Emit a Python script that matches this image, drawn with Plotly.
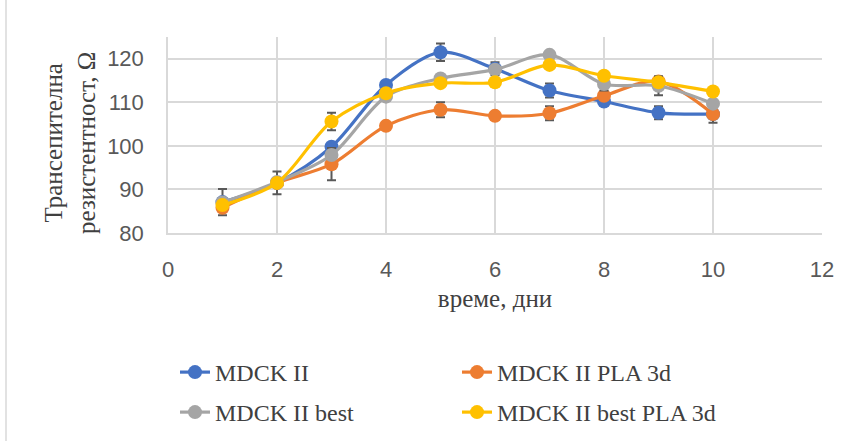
import plotly.graph_objects as go

days = [1, 2, 3, 4, 5, 6, 7, 8, 9, 10]

mdck = [87.1, 91.5, 99.8, 114.0, 121.5, 117.7, 112.7, 110.2, 107.6, 107.3]
mdck_pla = [85.8, 91.5, 95.8, 104.6, 108.3, 106.9, 107.5, 111.5, 114.8, 107.3]
mdck_best = [87.0, 91.7, 97.9, 111.3, 115.5, 117.5, 120.9, 114.2, 113.8, 109.7]
mdck_best_pla = [86.4, 91.5, 105.6, 112.1, 114.4, 114.6, 118.6, 116.1, 114.6, 112.5]

err_mdck = [3.0, 2.6, 0, 0, 2.0, 1.5, 1.6, 0, 1.5, 1.0]
err_mdck_pla = [0, 0, 3.7, 0, 1.7, 0, 1.6, 0, 0, 2.0]
err_mdck_best = [0, 0, 0, 0, 0, 0, 0, 1.5, 2.2, 0]
err_mdck_best_pla = [0, 0, 2.0, 0, 0, 0, 0, 0, 0, 0]

names = ["MDCK II", "MDCK II PLA 3d", "MDCK II best", "MDCK II best PLA 3d"]
colors = ["#4472C4", "#ED7D31", "#A5A5A5", "#FFC000"]
legends = ["legend", "legend", "legend2", "legend2"]

series = [mdck, mdck_pla, mdck_best, mdck_best_pla]
errors = [err_mdck, err_mdck_pla, err_mdck_best, err_mdck_best_pla]

W, H = 857, 441
L, R, T, B = 168, 35, 37, 208
pw, ph = W - L - R, H - T - B

fig = go.Figure()
for vals, errs, name, col, lg in zip(series, errors, names, colors, legends):
    fig.add_trace(go.Scatter(
        x=days, y=vals, name=name, mode="lines+markers",
        line=dict(color=col, width=3.2, shape="spline", smoothing=0.9),
        marker=dict(color=col, size=14, line=dict(width=0)),
        error_y=dict(type="data", array=errs, visible=True,
                     color="#595959", thickness=2, width=4.5),
        legend=lg,
    ))

serif = "Times New Roman, Liberation Serif, serif"
sans = "Liberation Sans, Arial, sans-serif"

legend_common = dict(
    orientation="h", xanchor="left", yanchor="top",
    xref="container", yref="container",
    font=dict(family=serif, size=24, color="#404040"),
    entrywidth=237, entrywidthmode="pixels",
    bgcolor="rgba(0,0,0,0)",
)

fig.update_layout(
    width=W, height=H,
    margin=dict(l=L, r=R, t=T, b=B, autoexpand=False),
    paper_bgcolor="white", plot_bgcolor="white",
    showlegend=True,
    legend=dict(x=175 / W, y=1 - 350 / H, **legend_common),
    legend2=dict(x=175 / W, y=1 - 390 / H, **legend_common),
    xaxis=dict(
        range=[0, 12], tickvals=[0, 2, 4, 6, 8, 10, 12],
        showgrid=True, gridcolor="#D9D9D9", gridwidth=1.5,
        showline=True, linecolor="#D9D9D9", linewidth=1.5,
        zeroline=False, ticks="", ticklabelstandoff=16,
        tickfont=dict(family=sans, size=22, color="#595959"),
        title=dict(text="време, дни", standoff=8,
                   font=dict(family=serif, size=25, color="#404040")),
    ),
    yaxis=dict(
        range=[80, 125], tickvals=[80, 90, 100, 110, 120],
        showgrid=True, gridcolor="#D9D9D9", gridwidth=1.5,
        showline=True, linecolor="#D9D9D9", linewidth=1.5,
        zeroline=False, ticks="", ticklabelstandoff=18,
        tickfont=dict(family=sans, size=22, color="#595959"),
    ),
    annotations=[dict(
        text="Трансепителна<br>резистентност, Ω",
        xref="paper", yref="paper",
        x=(70 - L) / pw, y=(T + ph - 143) / ph,
        xanchor="center", yanchor="middle",
        textangle=-90, showarrow=False,
        font=dict(family=serif, size=25, color="#404040"),
    )],
    shapes=[dict(
        type="line", xref="paper", yref="paper",
        x0=(6 - L) / pw, x1=(6 - L) / pw,
        y0=(T + ph - 0) / ph, y1=(T + ph - H) / ph,
        line=dict(color="#D9D9D9", width=1.5),
    )],
)

fig.write_html("out.html")
